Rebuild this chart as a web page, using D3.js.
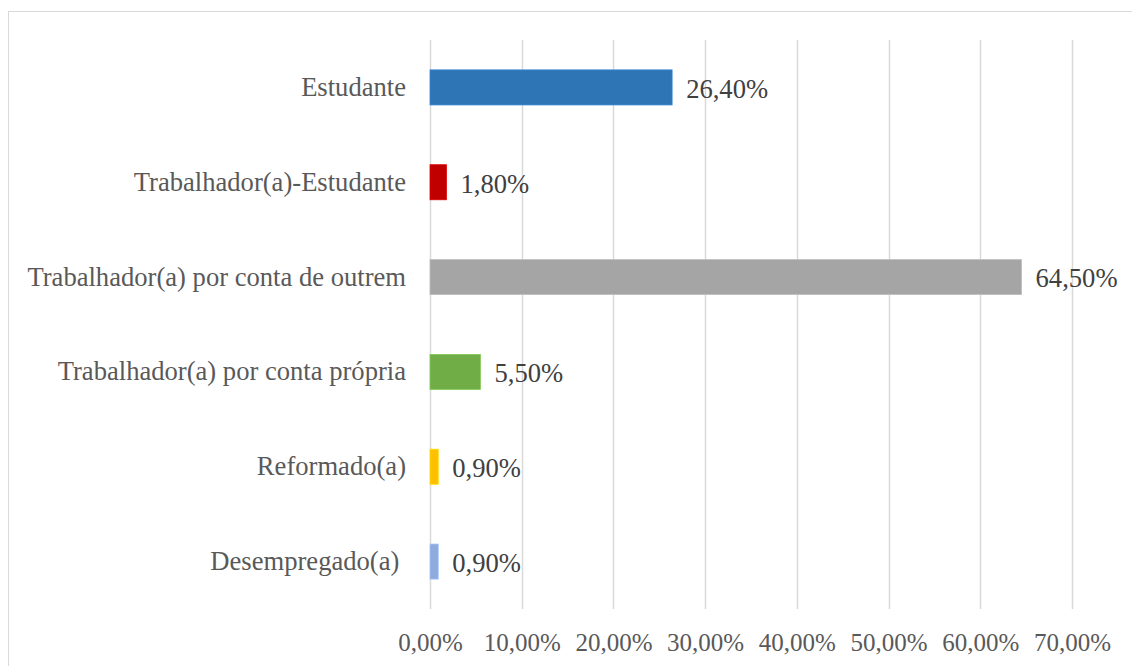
<!DOCTYPE html>
<html>
<head>
<meta charset="utf-8">
<script src="https://cdn.jsdelivr.net/npm/d3@7"></script>
<style>
  body { margin: 0; background: #fff; }
  svg { display: block; }
  svg text { font-family: "Liberation Serif", "DejaVu Serif", serif; white-space: pre; }
</style>
</head>
<body>
<div id="chart"></div>
<script>
// data
const categories = ["Estudante", "Trabalhador(a)-Estudante", "Trabalhador(a) por conta de outrem",
    "Trabalhador(a) por conta própria", "Reformado(a)", "Desempregado(a) "];
const values = [26.4, 1.8, 64.5, 5.5, 0.9, 0.9];
const barColors = ["#2E75B6", "#C00000", "#A5A5A5", "#70AD47", "#FFC000", "#8FAADC"];
const xTicks = [0, 10, 20, 30, 40, 50, 60, 70];

const canvWidth = 1132, canvHeight = 666;
const margin = {top: 40, right: 60, bottom: 57, left: 430};
const height = canvHeight - margin.top - margin.bottom;
const labelFont = "'Liberation Serif', 'DejaVu Serif', serif";

const fmt = v => d3.format(".2f")(v).replace(".", ",") + "%";

const svg = d3.select("#chart")
    .append("svg")
    .attr("width", canvWidth)
    .attr("height", canvHeight);

// chart area border (right/bottom edges fall outside the picture)
svg.append("rect")
    .attr("x", 8.5)
    .attr("y", 11.5)
    .attr("width", 1140)
    .attr("height", 680)
    .attr("fill", "none")
    .attr("stroke", "#D9D9D9")
    .attr("stroke-width", 1);

const g = svg.append("g")
    .attr("transform", `translate(${margin.left},${margin.top})`);

const x = d3.scaleLinear()
    .domain([0, 70])
    .range([0, 642]);

const data = categories.map((c, i) => ({name: c, value: values[i], color: barColors[i]}));

const y = d3.scaleBand()
    .domain(categories)
    .range([0, height])
    .paddingInner(0.63)
    .paddingOuter(0.315);

// vertical gridlines
g.selectAll(".grid")
    .data(xTicks)
    .join("line")
    .attr("class", "grid")
    .attr("x1", d => Math.round(x(d)) + 0.5)
    .attr("x2", d => Math.round(x(d)) + 0.5)
    .attr("y1", 0)
    .attr("y2", height)
    .attr("stroke", "#D9D9D9")
    .attr("stroke-width", 1.5);

// x axis labels
const xAxis = g.append("g")
    .attr("transform", `translate(0,${height})`)
    .call(d3.axisBottom(x).tickValues(xTicks).tickFormat(fmt).tickSize(0).tickPadding(24));
xAxis.attr("font-family", null).attr("font-size", null);
xAxis.select(".domain").remove();
xAxis.selectAll("text")
    .style("font-family", labelFont)
    .style("font-size", "25px")
    .attr("fill", "#595959");

// y axis labels
const yAxis = g.append("g")
    .call(d3.axisLeft(y).tickSize(0).tickPadding(24));
yAxis.attr("font-family", null).attr("font-size", null);
yAxis.select(".domain").remove();
yAxis.selectAll("text")
    .attr("xml:space", "preserve")
    .style("font-family", labelFont)
    .style("font-size", "26.6px")
    .attr("fill", "#595959");

// bars
g.selectAll(".bar")
    .data(data)
    .join("rect")
    .attr("class", "bar")
    .attr("x", x(0))
    .attr("y", d => y(d.name))
    .attr("width", d => x(d.value) - x(0))
    .attr("height", y.bandwidth())
    .attr("fill", d => d.color)
    .attr("stroke", d => d3.color(d.color).brighter(0.4))
    .attr("stroke-width", 0.75);

// value labels
g.selectAll(".val")
    .data(data)
    .join("text")
    .attr("class", "val")
    .attr("x", d => x(d.value) + 14)
    .attr("y", d => y(d.name) + y.bandwidth() / 2 + 1)
    .attr("dy", "0.35em")
    .style("font-family", labelFont)
    .style("font-size", "26.6px")
    .attr("fill", "#404040")
    .text(d => fmt(d.value));
</script>
</body>
</html>
